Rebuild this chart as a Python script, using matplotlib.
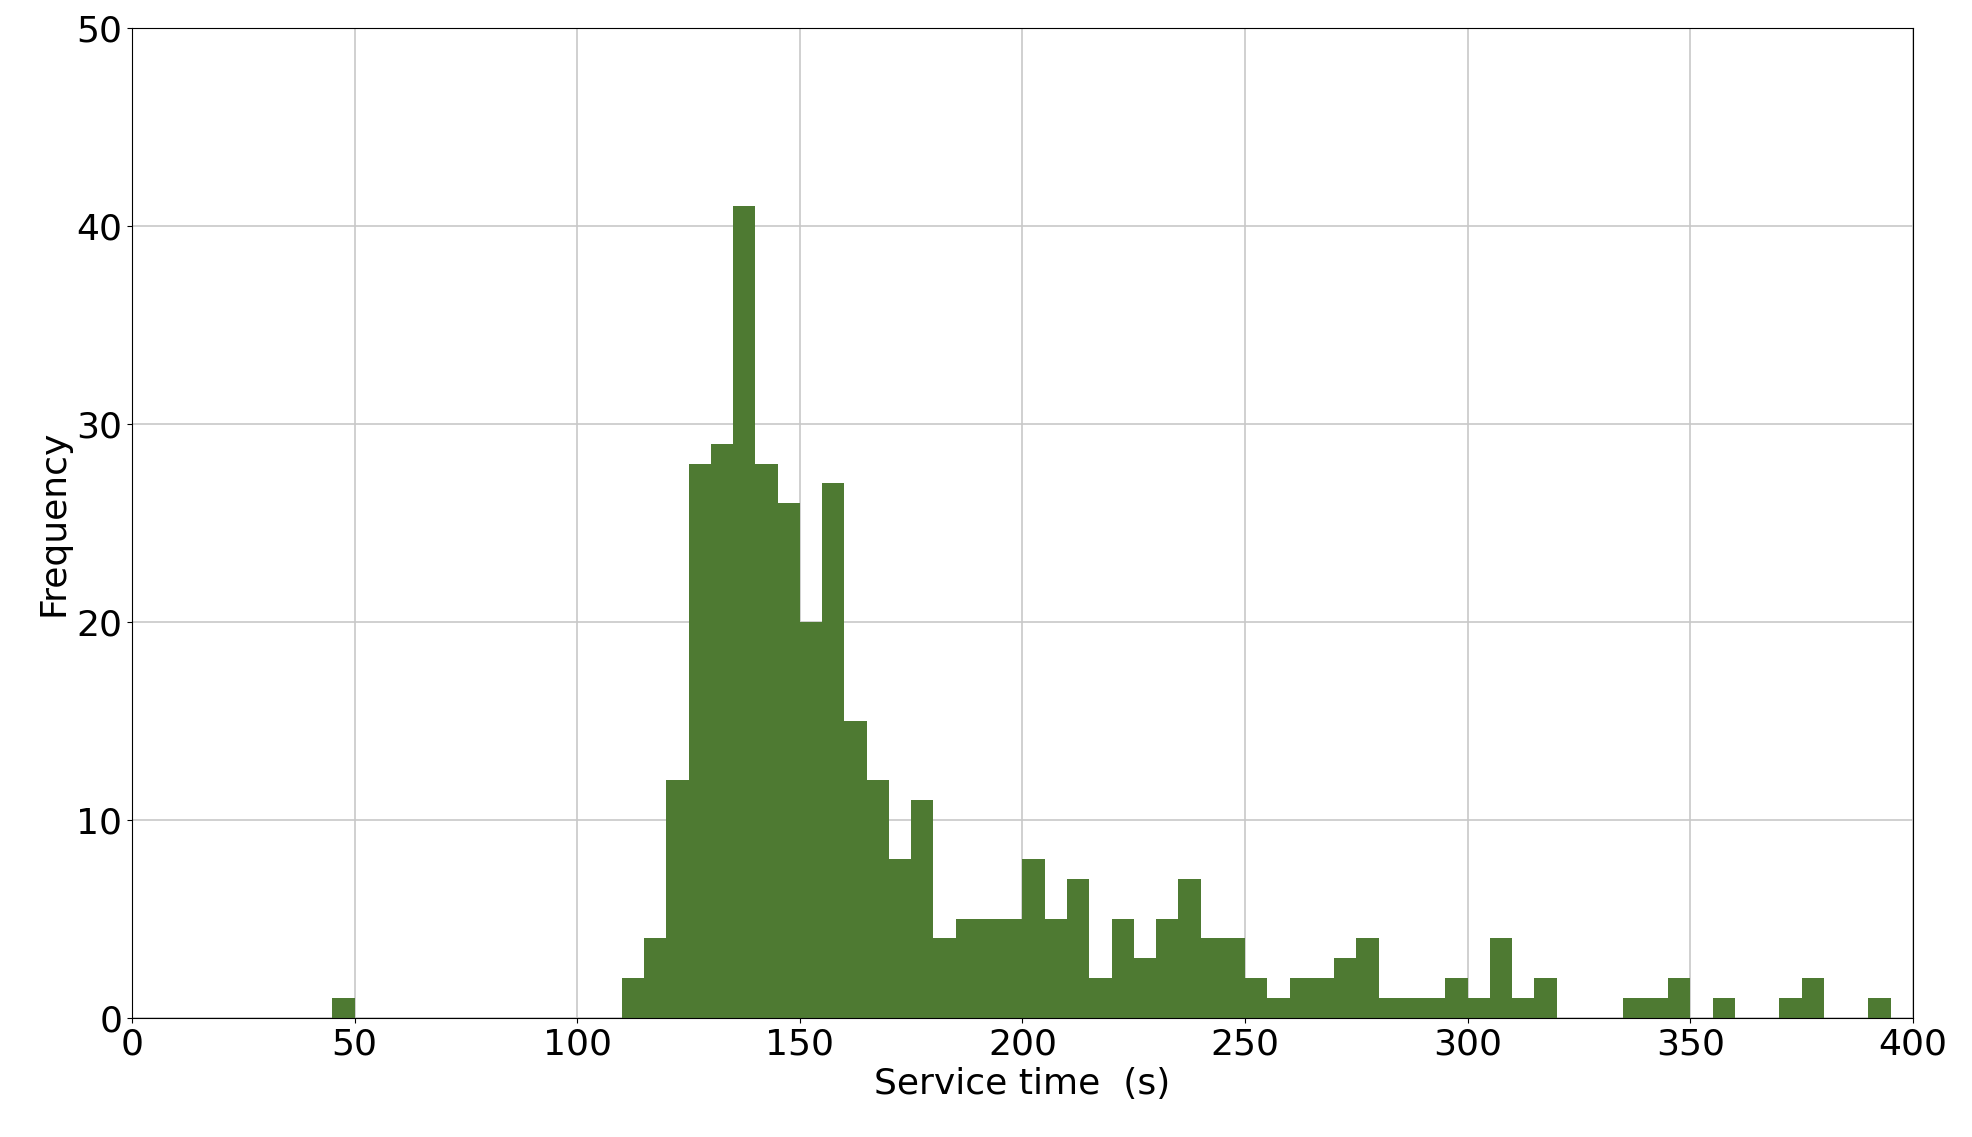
import matplotlib
matplotlib.use("Agg")
import matplotlib.pyplot as plt
import numpy as np

# histogram bins (left edges, width 5 s) and counts
bin_left = [45] + list(range(110, 320, 5)) + [335, 340, 345, 355, 370, 375, 390]
counts = [1,
          2, 4, 12, 28, 29, 41, 28, 26, 20, 27, 15, 12, 8, 11, 4, 5, 5, 5,
          8, 5, 7, 2, 5, 3, 5, 7, 4, 4, 2, 1, 2, 2, 3, 4, 1, 1, 1, 2, 1, 4, 1, 2,
          1, 1, 2, 1, 1, 2, 1]
bin_width = 5

fig, ax = plt.subplots(figsize=(19.72, 11.37), dpi=100)
ax.bar(bin_left, counts, width=bin_width, align='edge', color='#4e7a32', zorder=2)

ax.set_xlim(0, 400)
ax.set_ylim(0, 50)
ax.set_xticks(np.arange(0, 401, 50))
ax.set_yticks(np.arange(0, 51, 10))
ax.grid(True, color='#c8c8c8', linewidth=1.2, zorder=0)
ax.tick_params(labelsize=26)
ax.set_xlabel('Service time  (s)', fontsize=26)
ax.set_ylabel('Frequency', fontsize=26)

fig.subplots_adjust(left=0.067, right=0.97, top=0.975, bottom=0.105)
fig.savefig('out.png')
